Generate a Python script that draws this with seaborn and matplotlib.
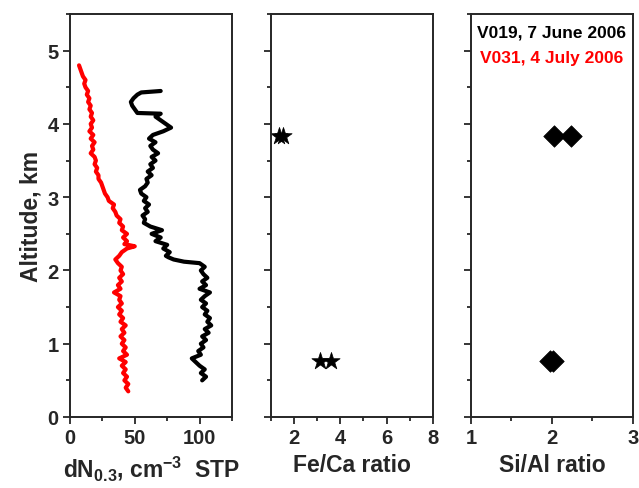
import numpy as np
import pandas as pd
import matplotlib
matplotlib.use("Agg")
import matplotlib.pyplot as plt
import seaborn as sns
from matplotlib.ticker import MultipleLocator

# V019 profile (black), altitude in km and dN0.3 in cm-3
alt_v019 = [0.50, 0.55, 0.60, 0.65, 0.70, 0.75, 0.80, 0.85, 0.90, 0.95,
            1.00, 1.05, 1.10, 1.15, 1.20, 1.25, 1.30, 1.35, 1.40, 1.45,
            1.50, 1.55, 1.60, 1.65, 1.70, 1.75, 1.80, 1.85, 1.90, 1.95,
            2.00, 2.05, 2.10, 2.12, 2.15, 2.18, 2.20, 2.25, 2.30, 2.35,
            2.40, 2.45, 2.50, 2.55, 2.60, 2.65, 2.70, 2.75, 2.80, 2.85,
            2.90, 2.95, 3.00, 3.05, 3.10, 3.15, 3.20, 3.25, 3.30, 3.35,
            3.40, 3.45, 3.50, 3.55, 3.60, 3.65, 3.70, 3.75, 3.80, 3.85,
            3.90, 3.95, 4.00, 4.05, 4.10, 4.14, 4.15, 4.20, 4.25, 4.30,
            4.35, 4.40, 4.43, 4.45]
dn_v019 = [102, 105, 101, 104, 100, 97, 94, 101, 99, 103,
           101, 105, 102, 107, 104, 109, 106, 108, 104, 106,
           102, 105, 101, 104, 108, 100, 105, 102, 106, 103,
           101, 104, 100, 88, 80, 76, 74, 77, 72, 75,
           66, 70, 63, 71, 62, 57, 58, 56, 60, 58,
           61, 57, 59, 55, 54, 58, 60, 59, 63, 60,
           64, 62, 66, 63, 68, 64, 62, 66, 61, 64,
           72, 78, 74, 70, 66, 70, 52, 50, 48, 47,
           49, 52, 55, 70]

# V031 profile (red)
alt_v031 = [0.35, 0.40, 0.45, 0.50, 0.55, 0.60, 0.65, 0.70, 0.75, 0.80,
            0.85, 0.90, 0.95, 1.00, 1.05, 1.10, 1.15, 1.20, 1.25, 1.30,
            1.35, 1.40, 1.45, 1.50, 1.55, 1.60, 1.65, 1.70, 1.75, 1.80,
            1.85, 1.90, 1.95, 2.00, 2.05, 2.10, 2.15, 2.20, 2.25, 2.30,
            2.33, 2.36, 2.40, 2.45, 2.50, 2.55, 2.60, 2.65, 2.70, 2.75,
            2.80, 2.85, 2.90, 2.95, 3.00, 3.05, 3.10, 3.15, 3.20, 3.25,
            3.30, 3.35, 3.40, 3.45, 3.50, 3.55, 3.60, 3.65, 3.70, 3.75,
            3.80, 3.85, 3.90, 3.95, 4.00, 4.05, 4.10, 4.15, 4.20, 4.25,
            4.30, 4.35, 4.40, 4.45, 4.50, 4.55, 4.60, 4.65, 4.70, 4.75,
            4.80]
dn_v031 = [45, 43, 45, 42, 44, 41, 43, 40, 43, 38,
           44, 41, 43, 40, 42, 39, 42, 40, 43, 39,
           41, 38, 40, 37, 40, 38, 39, 34, 39, 37,
           40, 38, 41, 39, 40, 37, 35, 38, 40, 44,
           50, 42, 44, 41, 44, 40, 41, 38, 39, 36,
           35, 33, 34, 30, 29, 27, 26, 25, 24, 22,
           22, 20, 21, 19, 20, 19, 16, 18, 17, 19,
           16, 18, 15, 17, 16, 18, 16, 17, 15, 16,
           14, 15, 13, 14, 12, 11, 12, 10, 9, 8,
           7]

# Fe/Ca ratios (stars)
feca_alt = [3.83, 3.83, 0.77, 0.77]
feca_ratio = [1.35, 1.5, 3.1, 3.6]

# Si/Al ratios (diamonds)
sial_alt = [3.83, 3.83, 0.77, 0.77]
sial_ratio = [2.02, 2.24, 1.98, 2.01]

sns.set_style("ticks")
plt.rcParams['font.family'] = ['Liberation Sans', 'DejaVu Sans']
plt.rcParams['font.weight'] = 'bold'
plt.rcParams['mathtext.fontset'] = 'custom'
plt.rcParams['mathtext.rm'] = 'Liberation Sans:bold'
plt.rcParams['mathtext.default'] = 'rm'
plt.rcParams['axes.linewidth'] = 1.4

fig = plt.figure(figsize=(6.39, 4.89), dpi=100)
ax1 = fig.add_axes([0.1095, 0.1452, 0.2535, 0.824])
ax2 = fig.add_axes([0.424, 0.1452, 0.2535, 0.824])
ax3 = fig.add_axes([0.737, 0.1452, 0.2535, 0.824])

df19 = pd.DataFrame({'alt': alt_v019, 'dn': dn_v019})
df31 = pd.DataFrame({'alt': alt_v031, 'dn': dn_v031})
sns.lineplot(data=df19, x='dn', y='alt', sort=False, estimator=None,
             color='black', linewidth=3, ax=ax1)
sns.lineplot(data=df31, x='dn', y='alt', sort=False, estimator=None,
             color='red', linewidth=3, ax=ax1)

sns.scatterplot(x=feca_ratio, y=feca_alt, marker='*', s=170, color='black',
                edgecolor='black', linewidth=0.5, ax=ax2)
sns.scatterplot(x=sial_ratio, y=sial_alt, marker='D', s=120, color='black',
                edgecolor='black', linewidth=0.5, ax=ax3)

ax1.set_xlim(0, 125)
ax2.set_xlim(1, 8)
ax3.set_xlim(1, 3)
for ax in (ax1, ax2, ax3):
    ax.set_ylim(0, 5.5)
    ax.yaxis.set_major_locator(MultipleLocator(1))
    ax.yaxis.set_minor_locator(MultipleLocator(0.5))
    ax.tick_params(which='major', direction='out', length=5, width=1.3,
                   labelsize=14.5, pad=3)
    ax.tick_params(which='minor', direction='out', length=3, width=1.3)
    ax.set_ylabel('')
    for s in ax.spines.values():
        s.set_visible(True)
        s.set_linewidth(1.4)

ax1.xaxis.set_major_locator(MultipleLocator(50))
ax1.xaxis.set_minor_locator(MultipleLocator(25))
ax2.xaxis.set_major_locator(MultipleLocator(2))
ax2.xaxis.set_minor_locator(MultipleLocator(1))
ax3.xaxis.set_major_locator(MultipleLocator(1))
ax3.xaxis.set_minor_locator(MultipleLocator(0.5))
ax2.tick_params(axis='y', labelleft=False)
ax3.tick_params(axis='y', labelleft=False)

ax1.set_ylabel('Altitude, km', fontsize=16.5, fontweight='bold', labelpad=4)
ax1.set_xlabel('dN$_{0.3}$, cm$^{-3}$  STP', fontsize=16.5,
               fontweight='bold', labelpad=4)
ax2.set_xlabel('Fe/Ca ratio', fontsize=16.5, fontweight='bold', labelpad=4)
ax3.set_xlabel('Si/Al ratio', fontsize=16.5, fontweight='bold', labelpad=4)

ax3.text(0.5, 0.975, 'V019, 7 June 2006', transform=ax3.transAxes,
         ha='center', va='top', fontsize=12.5, fontweight='bold', color='black')
ax3.text(0.5, 0.91, 'V031, 4 July 2006', transform=ax3.transAxes,
         ha='center', va='top', fontsize=12.5, fontweight='bold', color='red')

fig.savefig('out.png', dpi=100)
